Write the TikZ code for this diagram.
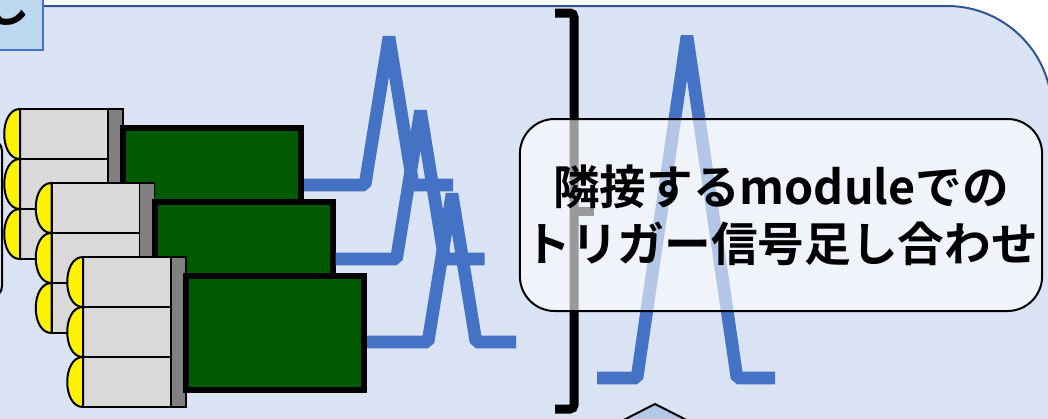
\documentclass[tikz,border=0pt]{standalone}
\usepackage{fontspec}
\newfontfamily\jpfont{Noto Sans CJK JP Bold}

\definecolor{panelbg}{HTML}{DAE3F3}
\definecolor{paneledge}{HTML}{2F5597}
\definecolor{tabbg}{HTML}{BDD7EE}
\definecolor{tabedge}{HTML}{4472C4}
\definecolor{pulse}{HTML}{4472C4}
\definecolor{boardgreen}{HTML}{005A00}
\definecolor{pmtgrey}{HTML}{D9D9D9}
\definecolor{basegrey}{HTML}{808080}
\definecolor{arrowbg}{HTML}{B4C7E7}

\tikzset{
  pmt/.style={fill=pmtgrey,draw=black,line width=1.5pt},
  window/.style={fill=yellow,draw=black,line width=1.5pt},
  base/.style={fill=basegrey,draw=black,line width=1pt},
  board/.style={fill=boardgreen,draw=black,line width=4.5pt,inner sep=0pt,
    minimum width=133.5pt,minimum height=85.5pt},
  signal/.style={draw=pulse,line width=9.5pt,line join=bevel},
  bracket/.style={draw=black,line width=6.75pt,rounded corners=3pt},
  sumbox/.style={draw=black,line width=1.5pt,fill=white,fill opacity=0.6,
    text opacity=1,rounded corners=26pt,minimum width=390pt,
    minimum height=144pt,align=center,
    font=\jpfont\fontsize{35}{43}\selectfont}
}

\begin{document}
\begin{tikzpicture}[x=0.75pt,y=-0.75pt]
    \fill[white] (0,0) rectangle (1048,418);
    \clip (0,0) rectangle (1048,418);

    % Draw the panel
    \filldraw[fill=panelbg,draw=paneledge,line width=1.5pt,rounded corners=78.75pt]
      (-200,6) rectangle (1052,600);

    % Title tab
    \filldraw[fill=tabbg,draw=tabedge,line width=1.5pt] (-60,-60) rectangle (43,50);
    \node[anchor=base west,inner sep=0pt,font=\jpfont\fontsize{34}{43}\selectfont] (tab) at (-16,22) {し};

    % Frame on the left
    \draw[line width=1.5pt,rounded corners=8pt] (-100,140) rectangle (2,297);

    % PMT stacks and boards
    \foreach \i in {0,1,2} {
      \begin{scope}[shift={({20+31.5*\i},{109+74*\i})}]
        \foreach \j in {0,50,100} {
          \draw[pmt] (0,\j) rectangle (88,\j+50);
          \draw[window] (0,\j) .. controls (-21,\j) and (-21,\j+50) .. (0,\j+50) -- cycle;
        }
        \draw[base] (88,0) rectangle (103,150);
        \node[board] (board\i) at (192,76) {};
      \end{scope}
    }

    % Trigger pulses of each board
    \foreach \i/\dy in {0/0,1/0,2/9}
      \draw[signal] (board\i.east) ++(0,\dy) -- ++(61,0) -- ++(24,-148) -- ++(24,148) -- ++(40,0);

    % Summed pulse
    \draw[signal] (597,378) -- (637,378) -- (687,36) -- (737,378) -- (775,378);

    % Bracket
    \draw[bracket] (555,13) -- (574,13) -- (574,409) -- (555,409);
    \draw[bracket] (574,211) -- (594,211);

    % Label box
    \node[sumbox] (sum) at (781,215) {隣接するmoduleでの\\トリガー信号足し合わせ};

    % Arrow head at the bottom
    \filldraw[fill=arrowbg,draw=black,line width=1.5pt] (600,432) -- (655,404) -- (710,432) -- cycle;
\end{tikzpicture}
\end{document}
